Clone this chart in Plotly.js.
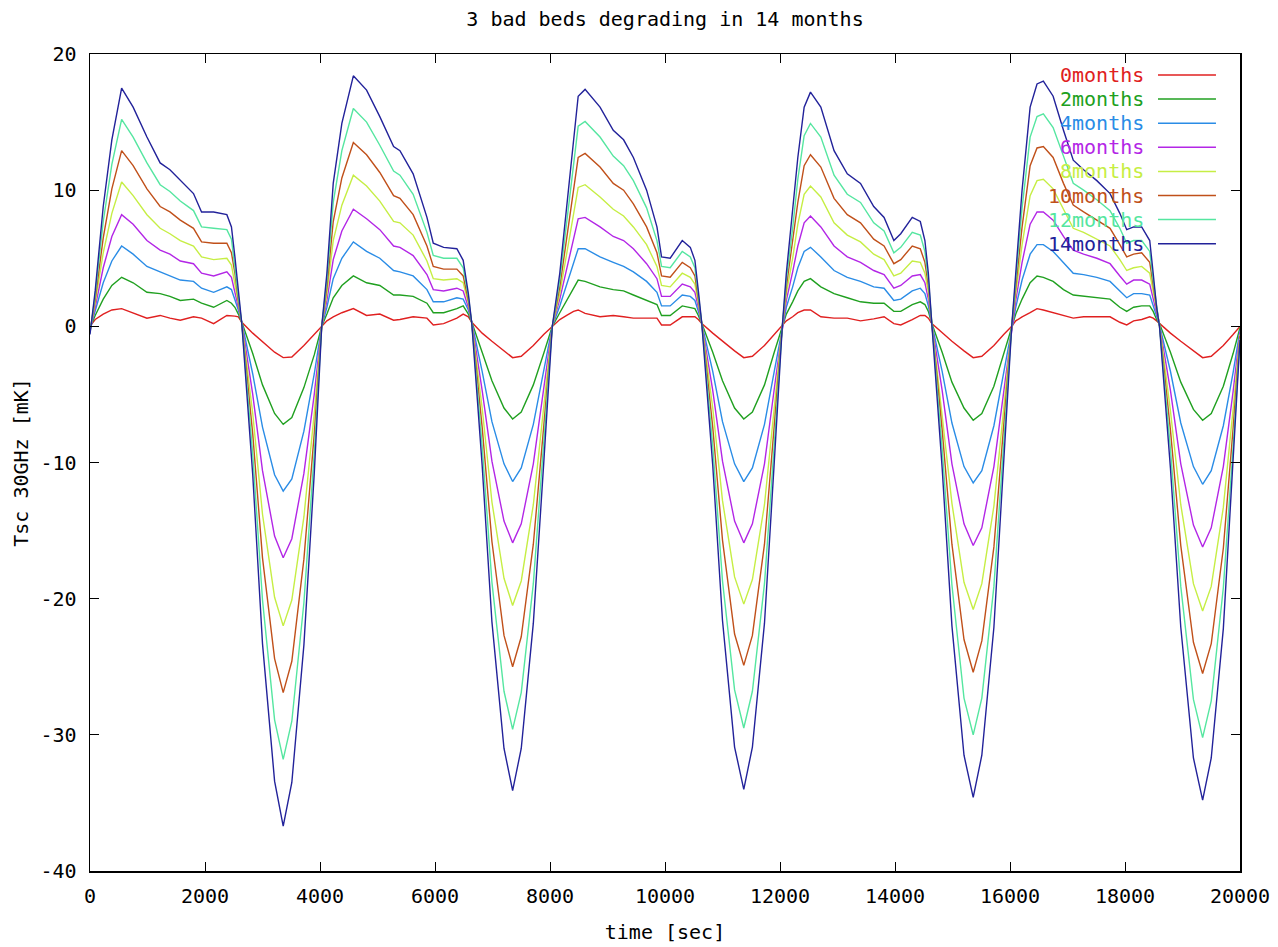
<!DOCTYPE html>
<html><head><meta charset="utf-8">
<script src="https://cdn.plot.ly/plotly-3.0.1.min.js"></script>
<style>html,body{margin:0;padding:0;background:#fff}#chart{width:1278px;height:947px}</style>
</head><body><div id="chart"></div>
<script>
const time = [0,90,230,380,550,750,990,1220,1390,1570,1800,1940,2150,2380,2460,2520,2580,2640,2830,3000,3210,3360,3510,3720,3900,4030,
4120,4230,4380,4580,4810,5040,5280,5390,5620,5860,5970,6150,6380,6490,6580,6640,6820,6990,7200,7350,7500,7710,7890,8040,
8170,8290,8410,8490,8610,8870,9100,9280,9450,9680,9860,9940,10090,10300,10440,10520,10580,10640,10830,11000,11210,11370,11520,11730,11900,12040,
12110,12220,12310,12420,12530,12710,12940,13170,13400,13630,13810,13980,14100,14300,14440,14520,14580,14640,14820,14990,15200,15360,15510,15720,15890,16030,
16100,16210,16350,16470,16580,16750,16930,17100,17280,17510,17740,17910,18030,18150,18290,18430,18490,18550,18600,18790,18970,19190,19350,19500,19710,19880,20000];

const m0 = [0.0,0.5,0.9,1.2,1.3,1.0,0.6,0.8,0.6,0.45,0.7,0.6,0.2,0.8,0.8,0.75,0.7,0.3,-0.5,-1.1,-1.9,-2.3,-2.25,-1.4,-0.6,0.0,
0.4,0.7,1.0,1.3,0.8,0.9,0.45,0.5,0.7,0.6,0.1,0.2,0.6,0.9,0.7,0.3,-0.5,-1.1,-1.8,-2.3,-2.2,-1.4,-0.6,0.0,
0.5,0.8,1.1,1.2,0.95,0.7,0.8,0.7,0.6,0.6,0.6,0.1,0.1,0.7,0.7,0.7,0.5,0.2,-0.5,-1.1,-1.8,-2.3,-2.2,-1.4,-0.6,0.0,
0.4,0.7,1.0,1.2,1.2,0.7,0.6,0.6,0.4,0.55,0.7,0.2,0.1,0.5,0.8,0.8,0.6,0.2,-0.5,-1.1,-1.8,-2.3,-2.2,-1.4,-0.6,0.0,
0.4,0.7,1.0,1.3,1.2,1.0,0.8,0.6,0.7,0.7,0.7,0.3,0.1,0.4,0.5,0.7,0.6,0.4,0.2,-0.5,-1.1,-1.8,-2.3,-2.2,-1.4,-0.6,0.0];

const m2 = [-0.1,0.8,2.0,3.0,3.6,3.2,2.5,2.4,2.2,1.9,2.0,1.7,1.4,1.9,1.7,1.4,0.9,0.3,-2.0,-4.3,-6.4,-7.2,-6.7,-4.5,-2.1,0.0,
0.9,2.1,3.0,3.7,3.2,3.0,2.3,2.3,2.2,1.7,1.0,1.0,1.3,1.5,0.9,0.3,-1.9,-4.0,-6.0,-6.8,-6.3,-4.3,-2.0,0.0,
1.0,1.9,2.9,3.4,3.3,2.9,2.7,2.6,2.3,1.9,1.6,0.8,0.8,1.5,1.4,1.3,0.8,0.2,-1.9,-4.0,-6.0,-6.8,-6.3,-4.3,-1.9,0.0,
0.9,1.8,2.6,3.3,3.5,2.9,2.4,2.1,1.8,1.7,1.7,1.1,1.1,1.6,1.8,1.6,1.1,0.2,-1.9,-4.1,-6.0,-6.9,-6.4,-4.4,-2.0,0.0,
0.9,2.0,3.2,3.7,3.6,3.3,2.7,2.3,2.2,2.1,2.0,1.4,1.1,1.4,1.5,1.5,1.1,0.5,0.2,-1.9,-4.1,-6.1,-6.9,-6.4,-4.4,-2.0,-0.1];

const m4 = [-0.2,1.1,3.2,4.8,5.9,5.3,4.4,4.0,3.7,3.4,3.3,2.8,2.5,2.9,2.7,2.0,1.2,0.3,-3.5,-7.4,-10.9,-12.1,-11.2,-7.7,-3.5,0.0,
1.4,3.5,5.0,6.2,5.5,5.0,4.1,4.0,3.7,2.7,1.8,1.8,2.1,2.0,1.2,0.3,-3.3,-7.0,-10.1,-11.4,-10.4,-7.2,-3.3,0.0,
1.5,3.1,4.7,5.7,5.7,5.1,4.7,4.4,4.0,3.3,2.5,1.5,1.5,2.3,2.2,1.9,1.1,0.2,-3.3,-7.0,-10.1,-11.4,-10.4,-7.2,-3.3,0.0,
1.4,2.9,4.3,5.5,5.8,5.1,4.1,3.6,3.3,2.9,2.8,1.9,2.0,2.6,2.8,2.4,1.5,0.2,-3.3,-7.1,-10.3,-11.5,-10.6,-7.3,-3.3,0.0,
1.4,3.4,5.3,6.0,6.0,5.5,4.7,3.9,3.8,3.6,3.3,2.6,2.1,2.4,2.4,2.3,1.5,0.7,0.1,-3.3,-7.1,-10.3,-11.6,-10.6,-7.3,-3.4,-0.3];

const m6 = [-0.3,1.4,4.3,6.6,8.2,7.5,6.3,5.6,5.3,4.8,4.6,3.9,3.7,4.0,3.6,2.6,1.4,0.3,-5.0,-10.6,-15.4,-17.0,-15.6,-10.8,-5.0,0.0,
1.9,4.9,7.0,8.6,7.9,7.1,5.9,5.8,5.2,3.8,2.7,2.6,2.8,2.6,1.4,0.3,-4.7,-9.9,-14.3,-15.9,-14.5,-10.1,-4.7,0.0,
2.0,4.2,6.5,7.9,8.0,7.3,6.6,6.3,5.7,4.6,3.5,2.2,2.2,3.1,2.9,2.5,1.4,0.2,-4.7,-9.9,-14.3,-15.9,-14.5,-10.1,-4.6,0.0,
1.9,4.0,5.9,7.6,8.1,7.3,5.9,5.1,4.7,4.1,3.8,2.8,3.0,3.7,3.8,3.2,2.0,0.2,-4.7,-10.1,-14.5,-16.1,-14.8,-10.3,-4.7,0.0,
1.9,4.7,7.5,8.4,8.4,7.8,6.6,5.6,5.3,5.0,4.6,3.7,3.1,3.4,3.4,3.1,2.0,0.8,0.1,-4.7,-10.1,-14.6,-16.2,-14.8,-10.3,-4.8,-0.4];

const m8 = [-0.3,1.7,5.4,8.3,10.6,9.6,8.2,7.2,6.8,6.3,5.9,5.1,4.9,5.0,4.5,3.2,1.7,0.2,-6.4,-13.8,-19.9,-22.0,-20.1,-14.0,-6.4,0.0,
2.4,6.3,8.9,11.1,10.3,9.2,7.7,7.6,6.7,4.8,3.5,3.4,3.5,3.2,1.7,0.2,-6.0,-12.9,-18.5,-20.5,-18.7,-13.1,-6.0,0.0,
2.4,5.4,8.3,10.2,10.4,9.5,8.6,8.1,7.3,6.0,4.4,3.0,2.9,3.9,3.6,3.1,1.7,0.2,-6.0,-12.8,-18.4,-20.4,-18.6,-13.1,-6.0,0.0,
2.4,5.0,7.5,9.7,10.3,9.5,7.6,6.7,6.2,5.3,4.9,3.7,3.9,4.8,4.7,3.9,2.5,0.2,-6.2,-13.0,-18.8,-20.8,-18.9,-13.2,-6.1,0.0,
2.4,6.0,9.6,10.7,10.8,10.1,8.6,7.2,6.9,6.4,5.9,4.9,4.1,4.3,4.4,3.9,2.5,1.0,0.1,-6.2,-13.1,-18.9,-20.9,-19.1,-13.3,-6.1,-0.6];

const m10 = [-0.4,2.0,6.5,10.1,12.9,11.8,10.1,8.8,8.4,7.8,7.2,6.2,6.1,6.1,5.4,3.9,1.9,0.2,-7.9,-17.0,-24.4,-26.9,-24.6,-17.1,-7.9,0.0,
2.9,7.7,10.9,13.5,12.6,11.3,9.6,9.4,8.2,5.9,4.4,4.2,4.2,3.7,1.9,0.2,-7.4,-15.8,-22.7,-25.0,-22.8,-16.0,-7.4,0.0,
2.9,6.5,10.1,12.4,12.7,11.7,10.5,10.0,9.0,7.3,5.4,3.7,3.6,4.7,4.3,3.7,2.0,0.2,-7.4,-15.7,-22.6,-24.9,-22.7,-16.0,-7.3,0.0,
2.9,6.1,9.1,11.8,12.6,11.7,9.4,8.2,7.6,6.4,5.9,4.6,4.9,5.9,5.7,4.7,3.0,0.2,-7.6,-16.0,-23.0,-25.4,-23.1,-16.2,-7.5,0.0,
2.9,7.3,11.8,13.1,13.2,12.4,10.5,8.9,8.4,7.8,7.2,6.0,5.1,5.3,5.4,4.7,3.0,1.1,0.0,-7.6,-16.1,-23.2,-25.5,-23.3,-16.3,-7.5,-0.7];

const m12 = [-0.5,2.3,7.7,11.9,15.2,13.9,12.0,10.4,9.9,9.2,8.5,7.3,7.2,7.1,6.4,4.5,2.2,0.2,-9.4,-20.1,-28.9,-31.8,-29.0,-20.3,-9.3,0.0,
3.4,9.1,12.9,16.0,15.0,13.3,11.4,11.1,9.7,6.9,5.2,5.0,5.0,4.3,2.2,0.2,-8.8,-18.8,-26.8,-29.6,-26.9,-18.9,-8.7,0.0,
3.4,7.7,11.9,14.7,15.05,13.9,12.5,11.8,10.7,8.7,6.3,4.4,4.3,5.5,5.1,4.3,2.3,0.2,-8.8,-18.7,-26.7,-29.5,-26.8,-18.9,-8.7,0.0,
3.4,7.2,10.8,14.0,14.9,13.9,11.1,9.7,9.1,7.6,7.0,5.4,5.8,6.9,6.7,5.5,3.4,0.2,-9.0,-19.0,-27.3,-30.0,-27.3,-19.1,-8.8,0.0,
3.4,8.7,13.9,15.4,15.6,14.6,12.5,10.5,10.0,9.3,8.5,7.2,6.1,6.3,6.3,5.5,3.4,1.3,0.0,-9.0,-19.1,-27.4,-30.2,-27.5,-19.2,-8.9,-0.9];

const m14 = [-0.6,2.6,8.8,13.7,17.5,16.1,13.9,12.0,11.5,10.7,9.75,8.4,8.4,8.2,7.3,5.1,2.4,0.2,-10.9,-23.3,-33.4,-36.7,-33.5,-23.4,-10.8,0.0,
3.9,10.5,14.9,18.4,17.35,15.4,13.2,12.9,11.2,8.0,6.1,5.8,5.7,4.85,2.4,0.2,-10.2,-21.7,-31.0,-34.1,-31.0,-21.8,-10.1,0.0,
3.9,8.8,13.7,16.9,17.4,16.1,14.4,13.7,12.4,10.0,7.3,5.1,5.0,6.3,5.8,4.85,2.6,0.2,-10.2,-21.6,-30.9,-34.0,-30.9,-21.8,-10.0,0.0,
3.9,8.3,12.4,16.1,17.2,16.1,12.9,11.2,10.5,8.8,8.0,6.3,6.8,8.0,7.7,6.3,3.9,0.2,-10.4,-22.0,-31.5,-34.6,-31.5,-22.1,-10.2,0.0,
3.9,10.0,16.1,17.8,18.0,16.9,14.4,12.2,11.5,10.7,9.75,8.3,7.1,7.3,7.3,6.3,3.9,1.4,0.0,-10.4,-22.1,-31.7,-34.8,-31.7,-22.2,-10.3,-1.0];

const seriesNames = ['0months','2months','4months','6months','8months','10months','12months','14months'];
const seriesValues = [m0, m2, m4, m6, m8, m10, m12, m14];
const xTicks = [0,2000,4000,6000,8000,10000,12000,14000,16000,18000,20000];
const yTicks = [-40,-30,-20,-10,0,10,20];

const colors = ['#e02020','#20a020','#2a8ce6','#b326e6','#c6ee44','#c0501a','#55e6a0','#22229a'];
const FONT = 'DejaVu Sans Mono, monospace';

const traces = seriesValues.map((v, i) => ({
  x: time, y: v, type: 'scatter', mode: 'lines', name: seriesNames[i],
  line: {color: colors[i], width: 1.4}, showlegend: false, hoverinfo: 'skip'
}));

// gnuplot-style key: right-aligned label followed by a line sample
const plotTop = 54, plotBottom = 871, plotH = plotBottom - plotTop;
const annotations = [], shapes = [];
seriesNames.forEach((n, i) => {
  const py = 75 + 24.1 * i;
  const yp = (plotBottom - py) / plotH;
  annotations.push({xref: 'paper', yref: 'paper', x: 0.9183, y: yp, xanchor: 'right', yanchor: 'middle',
    text: n, showarrow: false, font: {family: FONT, size: 20, color: colors[i]}});
  shapes.push({type: 'line', xref: 'paper', yref: 'paper', x0: 0.9287, x1: 0.9791, y0: yp, y1: yp,
    line: {color: colors[i], width: 1.5}});
});

const axisCommon = {
  ticks: 'inside', ticklen: 9, tickwidth: 1, tickcolor: '#000', mirror: 'ticks',
  showline: true, linecolor: '#000', linewidth: 1.5, showgrid: false, zeroline: false,
  automargin: false, tickfont: {family: FONT, size: 20, color: '#000'}
};

const layout = {
  width: 1278, height: 947,
  margin: {l: 90, r: 38, t: 54, b: 76, pad: 0},
  paper_bgcolor: '#fff', plot_bgcolor: '#fff',
  font: {family: FONT, size: 20, color: '#000'},
  title: {text: '3 bad beds degrading in 14 months', x: 0.5, xref: 'paper', xanchor: 'center',
    y: 1 - 19 / 947, yref: 'container', yanchor: 'middle', font: {family: FONT, size: 20, color: '#000'}},
  xaxis: Object.assign({}, axisCommon, {range: [0, 20000], tickvals: xTicks, ticktext: xTicks.map(String),
    ticklabelstandoff: 6, title: {text: 'time [sec]', standoff: 18, font: {family: FONT, size: 20, color: '#000'}}}),
  yaxis: Object.assign({}, axisCommon, {range: [-40, 20], tickvals: yTicks, ticktext: yTicks.map(String),
    ticklabelstandoff: 8, title: {text: 'Tsc 30GHz [mK]', standoff: 6, font: {family: FONT, size: 20, color: '#000'}}}),
  showlegend: false,
  annotations: annotations,
  shapes: shapes
};

Plotly.newPlot('chart', traces, layout, {displayModeBar: false, staticPlot: true});
</script>
</body></html>
